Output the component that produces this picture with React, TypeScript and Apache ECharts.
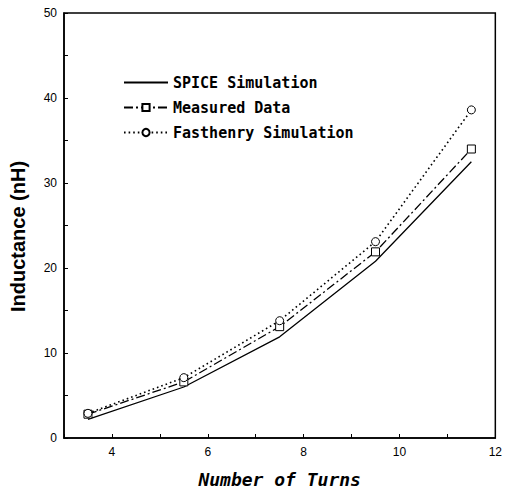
import React, { useEffect, useRef } from "react";
import * as echarts from "echarts";

const turns = [3.5, 5.5, 7.5, 9.5, 11.5];
const spice = [2.2, 6.0, 11.9, 20.8, 32.5];
const measured = [2.8, 6.6, 13.1, 21.9, 34.0];
const fasthenry = [2.9, 7.1, 13.8, 23.1, 38.6];
const seriesNames = ["SPICE Simulation", "Measured Data", "Fasthenry Simulation"];

const pair = (ys: number[]) => turns.map((x, i) => [x, ys[i]]);

export default function App() {
  const ref = useRef<HTMLDivElement>(null);
  useEffect(() => {
    const chart = echarts.init(ref.current!, null, { renderer: "svg" });
    chart.setOption({
      animation: false,
      backgroundColor: "#fff",
      grid: {
        left: 63,
        right: 7,
        top: 13,
        bottom: 54,
        show: true,
        borderColor: "#000",
        borderWidth: 1.5,
      },
      legend: {
        orient: "vertical",
        left: 118,
        top: 70,
        itemWidth: 44,
        itemHeight: 9,
        itemGap: 10,
        textStyle: {
          fontFamily: "DejaVu Sans Mono",
          fontWeight: "bold",
          fontSize: 15,
          color: "#000",
        },
        data: [
          { name: seriesNames[0], itemStyle: { color: "transparent", borderColor: "transparent", opacity: 0 } },
          { name: seriesNames[1] },
          { name: seriesNames[2] },
        ],
      },
      xAxis: {
        type: "value",
        min: 3,
        max: 12,
        interval: 1,
        name: "Number of Turns",
        nameLocation: "middle",
        nameGap: 32,
        nameTextStyle: {
          fontFamily: "DejaVu Sans Mono",
          fontWeight: "bold",
          fontStyle: "italic",
          fontSize: 18,
          color: "#000",
        },
        axisLine: { lineStyle: { color: "#000", width: 1.5 } },
        axisTick: { inside: true, length: 4, lineStyle: { color: "#000" } },
        axisLabel: {
          color: "#000",
          fontFamily: "Liberation Sans",
          fontSize: 12,
          margin: 8,
          formatter: (v: number) => (v % 2 === 0 ? String(v) : ""),
        },
        splitLine: { show: false },
      },
      yAxis: {
        type: "value",
        min: 0,
        max: 50,
        interval: 5,
        name: "Inductance (nH)",
        nameLocation: "middle",
        nameGap: 36,
        nameTextStyle: {
          fontFamily: "Liberation Sans",
          fontWeight: "bold",
          fontSize: 20,
          color: "#000",
          padding: [0, 22, 0, 0],
        },
        axisLine: { lineStyle: { color: "#000", width: 1.5 } },
        axisTick: { inside: true, length: 4, lineStyle: { color: "#000" } },
        axisLabel: {
          color: "#000",
          fontFamily: "Liberation Sans",
          fontSize: 12,
          margin: 7,
          formatter: (v: number) => (v % 10 === 0 ? String(v) : ""),
        },
        splitLine: { show: false },
      },
      series: [
        {
          name: seriesNames[0],
          type: "line",
          data: pair(spice),
          showSymbol: false,
          symbol: "none",
          color: "#000",
          lineStyle: { color: "#000", width: 1.3, type: "solid" },
        },
        {
          name: seriesNames[1],
          type: "line",
          data: pair(measured),
          symbol: "rect",
          symbolSize: 8,
          color: "#000",
          itemStyle: { color: "#fff", borderColor: "#000", borderWidth: 1 },
          lineStyle: { color: "#000", width: 1.3, type: [9, 3, 2, 3] },
        },
        {
          name: seriesNames[2],
          type: "line",
          data: pair(fasthenry),
          symbol: "circle",
          symbolSize: 8,
          color: "#000",
          itemStyle: { color: "#fff", borderColor: "#000", borderWidth: 1 },
          lineStyle: { color: "#000", width: 1.6, type: [1.6, 3] },
        },
      ],
    });
    return () => chart.dispose();
  }, []);
  return <div ref={ref} style={{ width: 505, height: 493, position: "absolute", left: 0, top: 0 }} />;
}
